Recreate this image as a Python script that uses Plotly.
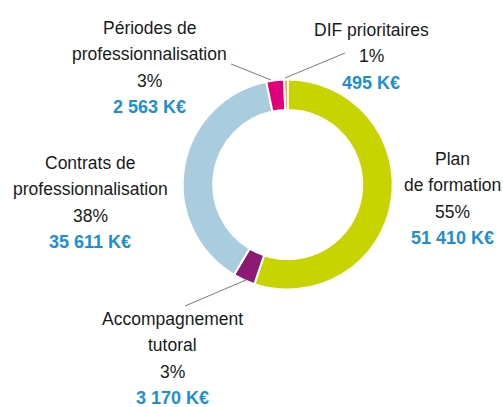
import plotly.graph_objects as go

categories = ["Plan de formation", "Accompagnement tutoral", "Contrats de professionnalisation",
              "Périodes de professionnalisation", "DIF prioritaires"]
values = [51410, 3170, 35611, 2563, 495]
percents = ["55%", "3%", "38%", "3%", "1%"]
value_labels = ["51 410 K€", "3 170 K€", "35 611 K€", "2 563 K€", "495 K€"]
name_lines = [["Plan", "de formation"], ["Accompagnement", "tutoral"],
              ["Contrats de", "professionnalisation"], ["Périodes de", "professionnalisation"],
              ["DIF prioritaires"]]
colors = ["#C8D400", "#8C1A73", "#A9CCDF", "#E2007A", "#F39200"]

W, H = 503, 407
FONT = "Liberation Sans, Arial, sans-serif"

cx, cy, R = 287.7, 184.5, 105
fig = go.Figure(go.Pie(
    labels=categories, values=values, sort=False, direction="clockwise", rotation=0,
    hole=0.71, marker=dict(colors=colors, line=dict(color="white", width=2)),
    textinfo="none", hoverinfo="label+percent", showlegend=False,
    domain=dict(x=[(cx - R) / W, (cx + R) / W],
                y=[(H - cy - R) / H, (H - cy + R) / H]),
))


def px(x, y):
    return x / W, 1 - y / H


# label block positions (center x, first line center y) in pixels
blocks = [(452, 159), (172, 319), (90, 163), (149, 28), (371, 30)]
spacing = 26.3
annotations = []
for i, (bx, y0) in enumerate(blocks):
    lines = list(name_lines[i]) + [percents[i]]
    for j, t in enumerate(lines):
        x, y = px(bx, y0 + j * spacing)
        annotations.append(dict(x=x, y=y, xref="paper", yref="paper",
                                text=t, showarrow=False, xanchor="center", yanchor="middle",
                                font=dict(family=FONT, size=17.5, color="#1a1a1a")))
    x, y = px(bx, y0 + len(lines) * spacing)
    annotations.append(dict(x=x, y=y, xref="paper", yref="paper",
                            text="<b>" + value_labels[i] + "</b>", showarrow=False,
                            xanchor="center", yanchor="middle",
                            font=dict(family=FONT, size=18, color="#1D8FCF")))

leaders = [((231, 64), (271, 80)), ((345, 53), (285, 78)), ((185, 306), (246, 280))]
shapes = []
for a, b in leaders:
    x0, y0 = px(*a)
    x1, y1 = px(*b)
    shapes.append(dict(type="line", xref="paper", yref="paper", x0=x0, y0=y0, x1=x1, y1=y1,
                       line=dict(color="#7a7a7a", width=1)))

fig.update_layout(width=W, height=H, margin=dict(l=0, r=0, t=0, b=0),
                  paper_bgcolor="white", plot_bgcolor="white",
                  annotations=annotations, shapes=shapes)
fig.write_html("out.html", config={"displayModeBar": False},
               post_script="document.body.style.margin='0';document.body.style.overflow='hidden';")
